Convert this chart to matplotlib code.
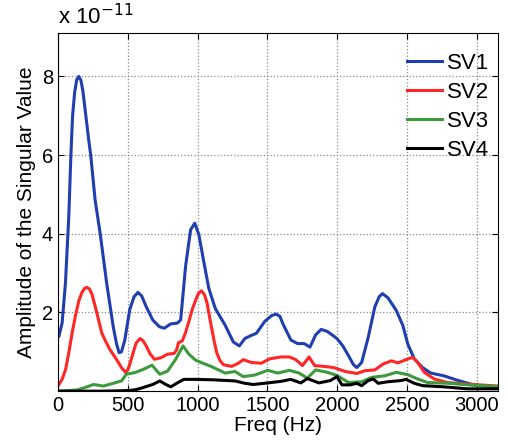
import numpy as np
import matplotlib
matplotlib.use("Agg")
import matplotlib.pyplot as plt

# values (amplitudes in units of 1e-11)
f_sv1 = [0, 7, 30, 54, 78, 93, 105, 120, 135, 150, 165, 180, 200, 220, 235, 266, 302,
         349, 396, 420, 438, 455, 479, 514, 545, 573, 600, 632, 679, 726, 761, 808,
         855, 879, 914, 950, 980, 1009, 1044, 1080, 1127, 1197, 1256, 1299, 1339, 1386,
         1421, 1480, 1530, 1562, 1590, 1610, 1668, 1716, 1763, 1805, 1845, 1885, 1928,
         1975, 2000, 2040, 2081, 2115, 2140, 2175, 2222, 2269, 2300, 2324, 2364, 2423,
         2470, 2505, 2552, 2611, 2670, 2764, 2858, 2976, 3150]
sv1 = [1.38, 1.39, 1.73, 2.75, 4.45, 6.0, 7.0, 7.6, 7.92, 8.0, 7.9, 7.6, 7.0, 6.4, 6.0, 4.87, 4.02,
       2.75, 1.64, 1.2, 0.98, 1.0, 1.3, 2.07, 2.4, 2.51, 2.42, 2.15, 1.81, 1.64, 1.6, 1.71,
       1.73, 1.81, 3.17, 4.1, 4.27, 3.98, 3.3, 2.62, 2.1, 1.68, 1.25, 1.15, 1.34, 1.42,
       1.47, 1.77, 1.92, 1.96, 1.9, 1.72, 1.3, 1.21, 1.21, 1.12, 1.43, 1.57, 1.52,
       1.4, 1.33, 1.15, 0.9, 0.68, 0.6, 0.73, 1.37, 2.14, 2.4, 2.48, 2.37, 2.05,
       1.67, 1.2, 0.82, 0.6, 0.46, 0.39, 0.28, 0.16, 0.1]

f_sv2 = [0, 30, 55, 78, 100, 125, 150, 172, 190, 207, 225, 243, 260, 278, 313, 340, 372,
         419, 455, 486, 505, 525, 545, 561, 589, 610, 632, 660, 691, 738, 785, 832, 850,
         863, 891, 914, 940, 962, 990, 1009, 1028, 1050, 1068, 1085, 1103, 1120, 1138,
         1160, 1186, 1244, 1292, 1327, 1386, 1456, 1515, 1598, 1657, 1704, 1751, 1798,
         1838, 1904, 1975, 2057, 2140, 2199, 2269, 2328, 2388, 2434, 2493, 2540, 2576,
         2623, 2694, 2788, 2929, 3150]
sv2 = [0.13, 0.3, 0.55, 0.98, 1.45, 1.91, 2.3, 2.51, 2.61, 2.64, 2.6, 2.47, 2.25, 2.0, 1.49, 1.28, 1.06,
       0.81, 0.6, 0.47, 0.58, 0.81, 1.05, 1.23, 1.34, 1.28, 1.15, 0.95, 0.81, 0.85, 0.94, 0.96, 1.05,
       1.23, 1.28, 1.49, 1.8, 2.08, 2.35, 2.5, 2.55, 2.45, 2.24, 1.9, 1.56, 1.25, 0.97,
       0.78, 0.67, 0.63, 0.71, 0.8, 0.73, 0.71, 0.82, 0.87, 0.87, 0.8, 0.65, 0.87,
       0.65, 0.63, 0.6, 0.5, 0.45, 0.52, 0.54, 0.69, 0.77, 0.72, 0.8, 0.86, 0.73,
       0.48, 0.31, 0.22, 0.18, 0.13]

f_sv3 = [0, 137, 200, 255, 325, 396, 455, 490, 549, 608, 674, 700, 730, 785, 843, 896,
         938, 985, 1032, 1103, 1197, 1268, 1327, 1410, 1503, 1574, 1657, 1727, 1786,
         1845, 1928, 1998, 2081, 2175, 2246, 2340, 2423, 2505, 2576, 2646, 2800, 2976,
         3150]
sv3 = [0.0, 0.03, 0.1, 0.17, 0.13, 0.2, 0.26, 0.43, 0.47, 0.55, 0.66, 0.55, 0.43, 0.51, 0.81, 1.15,
       0.94, 0.79, 0.72, 0.62, 0.46, 0.5, 0.37, 0.41, 0.53, 0.46, 0.53, 0.46, 0.33,
       0.54, 0.48, 0.4, 0.22, 0.24, 0.35, 0.39, 0.48, 0.42, 0.31, 0.22, 0.2, 0.15,
       0.12]

f_sv4 = [0, 300, 450, 520, 560, 608, 679, 730, 773, 808, 855, 902, 985, 1103, 1268,
         1339, 1398, 1503, 1598, 1668, 1739, 1786, 1869, 1951, 1998, 2034, 2093, 2140,
         2175, 2222, 2258, 2293, 2364, 2458, 2493, 2552, 2611, 2764, 2929, 3150]
sv4 = [0.0, 0.0, 0.01, 0.02, 0.04, 0.09, 0.17, 0.26, 0.17, 0.11, 0.21, 0.3, 0.3, 0.29, 0.26,
       0.2, 0.17, 0.21, 0.25, 0.3, 0.21, 0.32, 0.21, 0.27, 0.37, 0.16, 0.16, 0.2,
       0.14, 0.27, 0.31, 0.2, 0.24, 0.27, 0.3, 0.2, 0.14, 0.11, 0.06, 0.06]

series = [("SV1", f_sv1, sv1, "#1f3fb0"),
          ("SV2", f_sv2, sv2, "#ff2626"),
          ("SV3", f_sv3, sv3, "#3c9a3c"),
          ("SV4", f_sv4, sv4, "black")]

plt.rcParams['font.family'] = ['Liberation Sans', 'DejaVu Sans']

fig = plt.figure(figsize=(5.08, 4.42), dpi=100)
ax = fig.add_axes([0.114, 0.115, 0.866, 0.81])

for name, f, v, c in series:
    ax.plot(f, np.array(v) * 1e-11, color=c, lw=2.2, label=name,
            solid_joinstyle="round")

ax.set_xlim(0, 3150)
ax.set_ylim(0, 9.1e-11)
ax.set_xticks([0, 500, 1000, 1500, 2000, 2500, 3000])
ax.set_yticks(np.array([2, 4, 6, 8]) * 1e-11)
ax.set_yticklabels(["2", "4", "6", "8"])
ax.tick_params(direction="in", top=True, right=True, length=4, labelsize=14.5)
ax.grid(True, linestyle=":", color="#888888", lw=0.9)
for s in ax.spines.values():
    s.set_linewidth(0.8)
ax.set_xlabel("Freq (Hz)", fontsize=15, labelpad=1)
ax.set_ylabel("Amplitude of the Singular Value", fontsize=15, labelpad=4)
ax.text(0.0, 1.01, r"x 10$^{-11}$", transform=ax.transAxes, fontsize=16,
        ha="left", va="bottom")

leg = ax.legend(loc="upper right", bbox_to_anchor=(1.0, 0.97), frameon=False,
                fontsize=16, handlelength=1.6, handletextpad=0.2,
                labelspacing=0.36, borderaxespad=0)
for line in leg.get_lines():
    line.set_linewidth(2.2)

fig.savefig("out.png", dpi=100)
